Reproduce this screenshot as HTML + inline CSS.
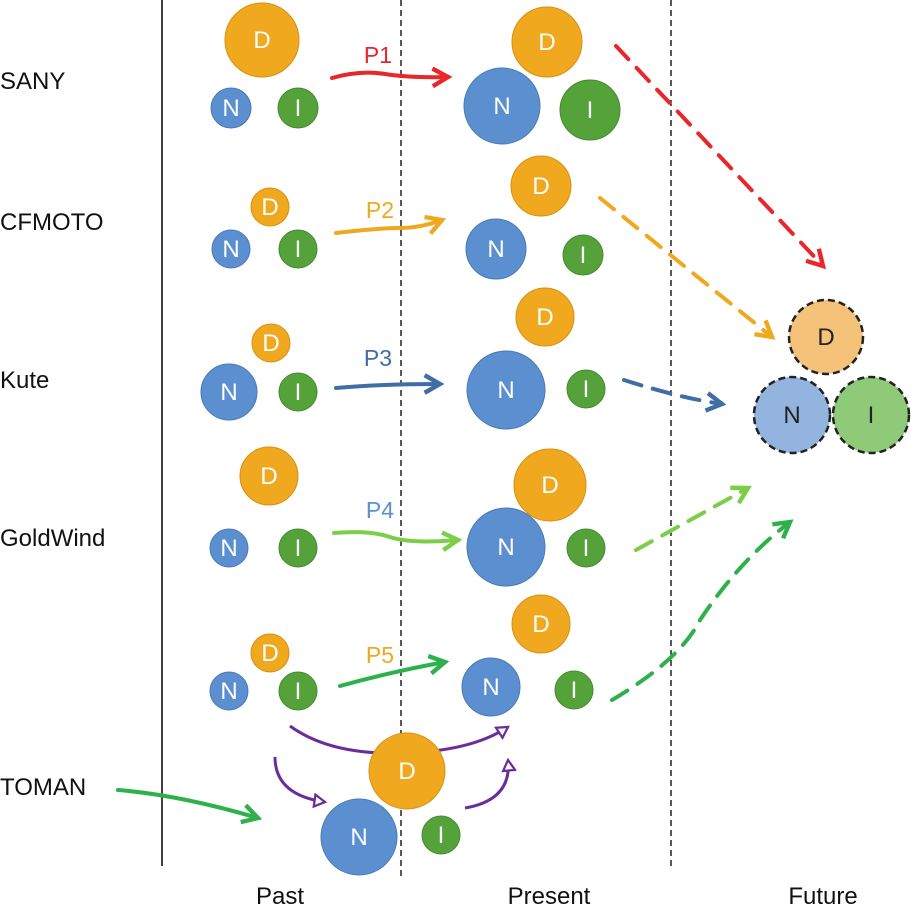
<!DOCTYPE html>
<html><head><meta charset="utf-8"><style>
body{margin:0;background:#fff}
svg text{font-family:"Liberation Sans",sans-serif}
</style></head><body>
<svg width="911" height="908" viewBox="0 0 911 908" xmlns="http://www.w3.org/2000/svg">
<defs>
<marker id="ah" viewBox="0 0 10 10" refX="8" refY="5" markerWidth="5.5" markerHeight="5.5" orient="auto" markerUnits="strokeWidth"><path d="M1,1 L8,5 L1,9" fill="none" stroke="context-stroke" stroke-width="2"/></marker>
<marker id="ph" viewBox="0 0 10 10" refX="8" refY="5" markerWidth="5" markerHeight="5" orient="auto" markerUnits="strokeWidth"><path d="M1,1 L8,5 L1,9 Z" fill="#fff" stroke="#6a2d9c" stroke-width="1.5"/></marker>
</defs>
<line x1="162" y1="0" x2="162" y2="866" stroke="#000" stroke-width="1.5"/>
<line x1="401" y1="0" x2="401" y2="876" stroke="#000" stroke-width="1.3" stroke-dasharray="6,4"/>
<line x1="671" y1="0" x2="671" y2="868" stroke="#000" stroke-width="1.3" stroke-dasharray="6,4"/>
<g font-size="24" fill="#111">
<text x="0" y="89">SANY</text><text x="0" y="230">CFMOTO</text><text x="0" y="388">Kute</text><text x="0" y="546">GoldWind</text><text x="0" y="795">TOMAN</text>
<text x="280" y="904" text-anchor="middle">Past</text><text x="549" y="904" text-anchor="middle">Present</text><text x="823" y="904" text-anchor="middle">Future</text>
</g>
<g stroke-linecap="round" fill="none" stroke-width="4">
<path d="M332,78 Q360,70 385,74 T448,77" stroke="#e8262b" marker-end="url(#ah)"/>
<path d="M336,233 Q380,228 400,228 T442,220" stroke="#f0a81e" marker-end="url(#ah)"/>
<path d="M336,388 Q380,384 440,384" stroke="#3e6ea5" marker-end="url(#ah)"/>
<path d="M334,533 Q370,530 390,537 T458,540" stroke="#7ccd47" marker-end="url(#ah)"/>
<path d="M340,686 Q390,672 445,662" stroke="#2eb04b" marker-end="url(#ah)"/>
<path d="M118,790 Q180,795 258,818" stroke="#2eb04b" marker-end="url(#ah)"/>
<g stroke-dasharray="18,12">
<path d="M616,46 L823,266" stroke="#e8262b" marker-end="url(#ah)"/>
<path d="M600,198 L772,337" stroke="#f0a81e" marker-end="url(#ah)"/>
<path d="M624,380 Q680,398 722,404" stroke="#3e6ea5" marker-end="url(#ah)"/>
<path d="M636,550 L748,488" stroke="#7ccd47" marker-end="url(#ah)"/>
<path d="M612,700 Q680,660 700,620 Q740,560 790,522" stroke="#2eb04b" marker-end="url(#ah)"/>
</g>
</g>
<g fill="none" stroke="#6a2d9c" stroke-width="3">
<path d="M290,726 Q330,755 400,753 Q470,752 508,727" marker-end="url(#ph)"/>
<path d="M275,757 Q275,795 325,802" marker-end="url(#ph)"/>
<path d="M465,808 Q512,800 508,760" marker-end="url(#ph)"/>
</g>
<g font-size="23" text-anchor="middle">
<text x="378" y="63" fill="#e8262b">P1</text>
<text x="380" y="218" fill="#f0a81e">P2</text>
<text x="378" y="366" fill="#3e6ea5">P3</text>
<text x="380" y="518" fill="#5b8fcf">P4</text>
<text x="380" y="663" fill="#f0a81e">P5</text>
</g>
<g font-size="24" text-anchor="middle" fill="#fff">
<circle cx="262" cy="40" r="37" fill="#f0a81e" stroke="#d89010"/><text x="262" y="48">D</text>
<circle cx="231" cy="108" r="20" fill="#5b8fcf" stroke="#4a7ab5"/><text x="231" y="116">N</text>
<circle cx="298" cy="108" r="20" fill="#55a23b" stroke="#458a30"/><text x="298" y="116">I</text>
<circle cx="547" cy="42" r="35" fill="#f0a81e" stroke="#d89010"/><text x="547" y="50">D</text>
<circle cx="502" cy="106" r="38" fill="#5b8fcf" stroke="#4a7ab5"/><text x="502" y="114">N</text>
<circle cx="590" cy="110" r="30" fill="#55a23b" stroke="#458a30"/><text x="590" y="118">I</text>

<circle cx="270" cy="207" r="19" fill="#f0a81e" stroke="#d89010"/><text x="270" y="215">D</text>
<circle cx="231" cy="249" r="19" fill="#5b8fcf" stroke="#4a7ab5"/><text x="231" y="257">N</text>
<circle cx="298" cy="249" r="19" fill="#55a23b" stroke="#458a30"/><text x="298" y="257">I</text>
<circle cx="541" cy="186" r="30" fill="#f0a81e" stroke="#d89010"/><text x="541" y="194">D</text>
<circle cx="496" cy="249" r="30" fill="#5b8fcf" stroke="#4a7ab5"/><text x="496" y="257">N</text>
<circle cx="583" cy="255" r="20" fill="#55a23b" stroke="#458a30"/><text x="583" y="263">I</text>

<circle cx="271" cy="343" r="19" fill="#f0a81e" stroke="#d89010"/><text x="271" y="351">D</text>
<circle cx="229" cy="392" r="28" fill="#5b8fcf" stroke="#4a7ab5"/><text x="229" y="400">N</text>
<circle cx="298" cy="392" r="19" fill="#55a23b" stroke="#458a30"/><text x="298" y="400">I</text>
<circle cx="545" cy="317" r="29" fill="#f0a81e" stroke="#d89010"/><text x="545" y="325">D</text>
<circle cx="506" cy="390" r="39" fill="#5b8fcf" stroke="#4a7ab5"/><text x="506" y="398">N</text>
<circle cx="586" cy="389" r="19" fill="#55a23b" stroke="#458a30"/><text x="586" y="397">I</text>

<circle cx="269" cy="476" r="29" fill="#f0a81e" stroke="#d89010"/><text x="269" y="484">D</text>
<circle cx="229" cy="548" r="19" fill="#5b8fcf" stroke="#4a7ab5"/><text x="229" y="556">N</text>
<circle cx="298" cy="548" r="19" fill="#55a23b" stroke="#458a30"/><text x="298" y="556">I</text>
<circle cx="550" cy="485" r="36" fill="#f0a81e" stroke="#d89010"/><text x="550" y="493">D</text>
<circle cx="506" cy="547" r="39" fill="#5b8fcf" stroke="#4a7ab5"/><text x="506" y="555">N</text>
<circle cx="586" cy="548" r="19" fill="#55a23b" stroke="#458a30"/><text x="586" y="556">I</text>

<circle cx="270" cy="653" r="19" fill="#f0a81e" stroke="#d89010"/><text x="270" y="661">D</text>
<circle cx="229" cy="691" r="19" fill="#5b8fcf" stroke="#4a7ab5"/><text x="229" y="699">N</text>
<circle cx="298" cy="691" r="19" fill="#55a23b" stroke="#458a30"/><text x="298" y="699">I</text>
<circle cx="541" cy="624" r="29" fill="#f0a81e" stroke="#d89010"/><text x="541" y="632">D</text>
<circle cx="491" cy="687" r="29" fill="#5b8fcf" stroke="#4a7ab5"/><text x="491" y="695">N</text>
<circle cx="574" cy="690" r="19" fill="#55a23b" stroke="#458a30"/><text x="574" y="698">I</text>

<circle cx="359" cy="837" r="38" fill="#5b8fcf" stroke="#4a7ab5"/><text x="359" y="845">N</text>
<circle cx="407" cy="771" r="38" fill="#f0a81e" stroke="#d89010"/><text x="407" y="779">D</text>
<circle cx="441" cy="835" r="19" fill="#55a23b" stroke="#458a30"/><text x="441" y="843">I</text>
</g>
<g font-size="24" text-anchor="middle" fill="#222" stroke-width="2.5" stroke-dasharray="7,4">
<circle cx="826" cy="337" r="37" fill="#f5c27a" stroke="#222"/><text x="826" y="345" stroke="none">D</text>
<circle cx="792" cy="415" r="38" fill="#93b4df" stroke="#222"/><text x="792" y="423" stroke="none">N</text>
<circle cx="871" cy="415" r="38" fill="#8fca78" stroke="#222"/><text x="871" y="423" stroke="none">I</text>
</g>
</svg>
</body></html>
